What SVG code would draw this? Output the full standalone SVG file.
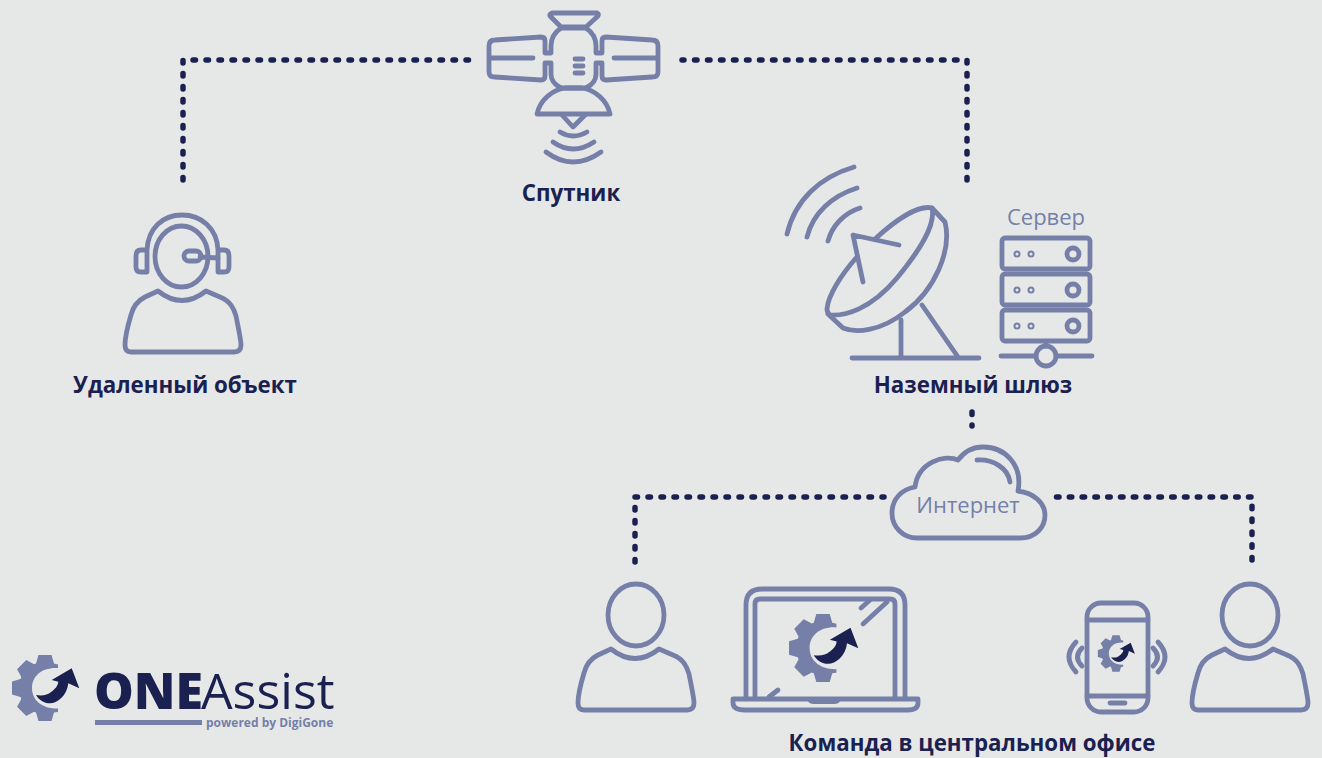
<svg xmlns="http://www.w3.org/2000/svg" width="1322" height="758" viewBox="0 0 1322 758">
<style>
.bg{fill:#e6e8e7}
.s{fill:none;stroke:#757fa8;stroke-width:4.8;stroke-linecap:round;stroke-linejoin:round}
.f{fill:#757fa8}
.d{fill:#1a2150}
.dots{fill:none;stroke:#1a2150;stroke-width:5.5;stroke-linecap:round;stroke-linejoin:round;stroke-dasharray:2.5 10.5}
text{font-family:"Open Sans","Noto Sans","Liberation Sans",sans-serif}
.l{font-weight:700;font-size:22.300px;fill:#1a2150;text-anchor:middle}
.m{font-size:22px;fill:#757fa8;text-anchor:middle}
</style>
<defs>
<g id="gear">
<path class="f" d="M-6.500 -33H6.500L9 -24.500L13 -23.500V-20C-3 -21 -13 -12 -13 0C-13 12 -3 21 13 20.500V24L9 24.500L6.500 33H-6.500L-9 24.500L-10.900 23.700L-18.700 27.900L-27.900 18.700L-23.700 10.900L-24.500 9L-33 6.500V-6.500L-24.500 -9L-23.700 -10.900L-27.900 -18.700L-18.700 -27.900L-10.900 -23.700L-9 -24.500Z"/>
<path class="d" d="M-9 7C-3 8 3 7 6 4C10 1 13 -2 13.300 -6.300L6.700 -8L26.700 -19.700L34.300 .3L23.300 -4.700C22 8 12 15.300 5 15.300C-1 15.300 -6 12 -9 7Z"/>
</g>
<path id="body" class="s" d="M158 291Q182 310 206 291L220 297C232 302 234 310 236 316C238 326 241 340 241 345Q241 352 234 352H131Q125 352 125 345C125 338 128 325 131 315C133 307 137 301 145 297Z"/>
<path id="panel" class="s" d="M545 53V41Q545 37 541 37L495 40Q489 40 489 46V72Q489 77 495 77L541 80Q545 80 545 76V63M489 58H533M545 53H551V46C551 38 555 32 561 28M545 63H551V74C551 80 555 85 561 88"/>
<rect id="srv" class="s" x="1002" y="238" width="88" height="31" rx="3"/>
</defs>
<rect class="bg" width="1322" height="758"/>
<g id="connectors">
<path class="dots" d="M183 180V60H470"/>
<path class="dots" d="M967 180V60H682"/>
<path class="dots" d="M972 412V426"/>
<path class="dots" d="M635 562V497H884"/>
<path class="dots" style="stroke-dasharray:2.500 10.300" d="M1252 560V497H1056"/>
</g>
<g id="satellite">
<path class="s" d="M552 13H597Q599 14 598 16L586 27H561L550 16Q549 14 552 13Z"/>
<use href="#panel"/>
<use href="#panel" transform="translate(1147 0) scale(-1 1)"/>
<path class="s" d="M561 28H586M561 88H586M575 59H583M575 66H583M575 73H583"/>
<path class="s" d="M537 114C540 100 552 90 565 88H582C595 90 607 100 610 114Z"/>
<path class="s" d="M562 115L573 127L585 115M560 132Q573 140 587 132M553 142Q573 156 594 142M546 152Q573 172 601 152"/>
<text class="l" x="571" y="201">Спутник</text>
</g>
<g id="remote">
<ellipse class="s" cx="181.500" cy="256.500" rx="26.500" ry="30.500"/>
<path class="s" d="M147 250C148 228 163 215 182 215C201 215 217 228 218 250M147 250H141Q136 250 136 256V267Q136 272 141 272H147ZM218 250H224Q229 250 229 256V267Q229 272 224 272H218Z"/>
<rect class="s" x="184" y="251" width="17" height="10" rx="5"/>
<path class="s" d="M200 257L218 258"/>
<use href="#body"/>
<text class="l" x="185" y="393">Удаленный объект</text>
</g>
<g id="gateway">
<path class="s" d="M787 234C795 200 820 177 854 167M807 237C813 213 832 196 857 188M828 241C832 226 844 213 860 208"/>
<path class="s" d="M875 239C899 217 920 205 932 208C936 225 920 250 897 278C870 310 845 316 830 315Q827 313 827 309C828 295 842 274 856 258"/>
<path class="s" d="M932 208L945 222C952 250 935 290 905 312C880 332 855 333 843 328L828 314"/>
<path class="s" d="M863 282L853 235L899 245M901 320V358M922 305L958 357M852 358H979"/>
<text class="m" x="1046" y="225">Сервер</text>
<use href="#srv"/><use href="#srv" y="36"/><use href="#srv" y="72"/>
<g class="f"><circle cx="1017" cy="254" r="3.500"/><circle cx="1031" cy="254" r="3.500"/><circle cx="1017" cy="290" r="3.500"/><circle cx="1031" cy="290" r="3.500"/><circle cx="1017" cy="326" r="3.500"/><circle cx="1031" cy="326" r="3.500"/></g>
<g class="bg"><circle cx="1017" cy="254" r="1.500"/><circle cx="1031" cy="254" r="1.500"/><circle cx="1017" cy="290" r="1.500"/><circle cx="1031" cy="290" r="1.500"/><circle cx="1017" cy="326" r="1.500"/><circle cx="1031" cy="326" r="1.500"/></g>
<circle class="s" cx="1073" cy="254" r="6"/><circle class="s" cx="1073" cy="290" r="6"/><circle class="s" cx="1073" cy="326" r="6"/>
<circle class="s" cx="1046" cy="356" r="10"/>
<path class="s" d="M1046 342V346M1001 356H1036M1056 356H1092"/>
<text class="l" x="973" y="393">Наземный шлюз</text>
</g>
<g id="internet">
<path class="s" d="M917 538H1020C1036 538 1045 527 1045 515C1045 503 1034 493 1018 491C1023 465 1005 447 983 447C972 447 964 452 958 460C945 454 918 462 915 487C902 489 892 499 892 513C892 527 903 538 917 538Z"/>
<path class="s" d="M977 460C993 459 1008 468 1010 482"/>
<text class="m" x="968" y="513">Интернет</text>
</g>
<g id="office">
<ellipse class="s" cx="636" cy="615" rx="28" ry="31"/>
<use href="#body" x="453" y="358"/>
<path class="s" d="M746 698V605Q746 589 762 589H889Q905 589 905 605V698"/>
<path class="s" d="M755 698V604Q755 599 760 599H890Q895 599 895 604V698"/>
<path class="s" d="M733 699H918V703Q918 710 908 710H745Q733 710 733 703Z"/>
<path class="f" d="M807 699H841Q840 704 834 704H814Q808 704 807 699Z"/>
<path class="s" d="M861 608L870 600M863 624L887 602M769 697L778 690"/>
<use href="#gear" transform="translate(823 648) scale(1.030)"/>
<rect class="s" x="1087" y="603" width="61" height="109" rx="14"/>
<path class="s" d="M1087 620H1148M1087 696H1148"/>
<path class="s" d="M1110 703H1125"/>
<path class="s" d="M1076 642Q1062 657 1076 672M1082 648Q1073 657 1082 666M1158 642Q1172 657 1158 672M1153 648Q1162 657 1153 666"/>
<use href="#gear" transform="translate(1116 653.500) scale(.550)"/>
<ellipse class="s" cx="1250" cy="615" rx="28" ry="31"/>
<use href="#body" x="1067" y="358"/>
<text class="l" x="972" y="751">Команда в центральном офисе</text>
</g>
<g id="logo">
<use href="#gear" transform="translate(45 688)"/>
<text x="94" y="709" font-size="50" font-weight="800" fill="#1a2150">ONE</text>
<text x="201" y="709" font-size="50" fill="#1a2150">Assist</text>
<rect class="f" x="95" y="720" width="107" height="5"/>
<text x="206" y="727" font-size="12" font-weight="700" fill="#757fa8">powered by DigiGone</text>
</g>
</svg>
